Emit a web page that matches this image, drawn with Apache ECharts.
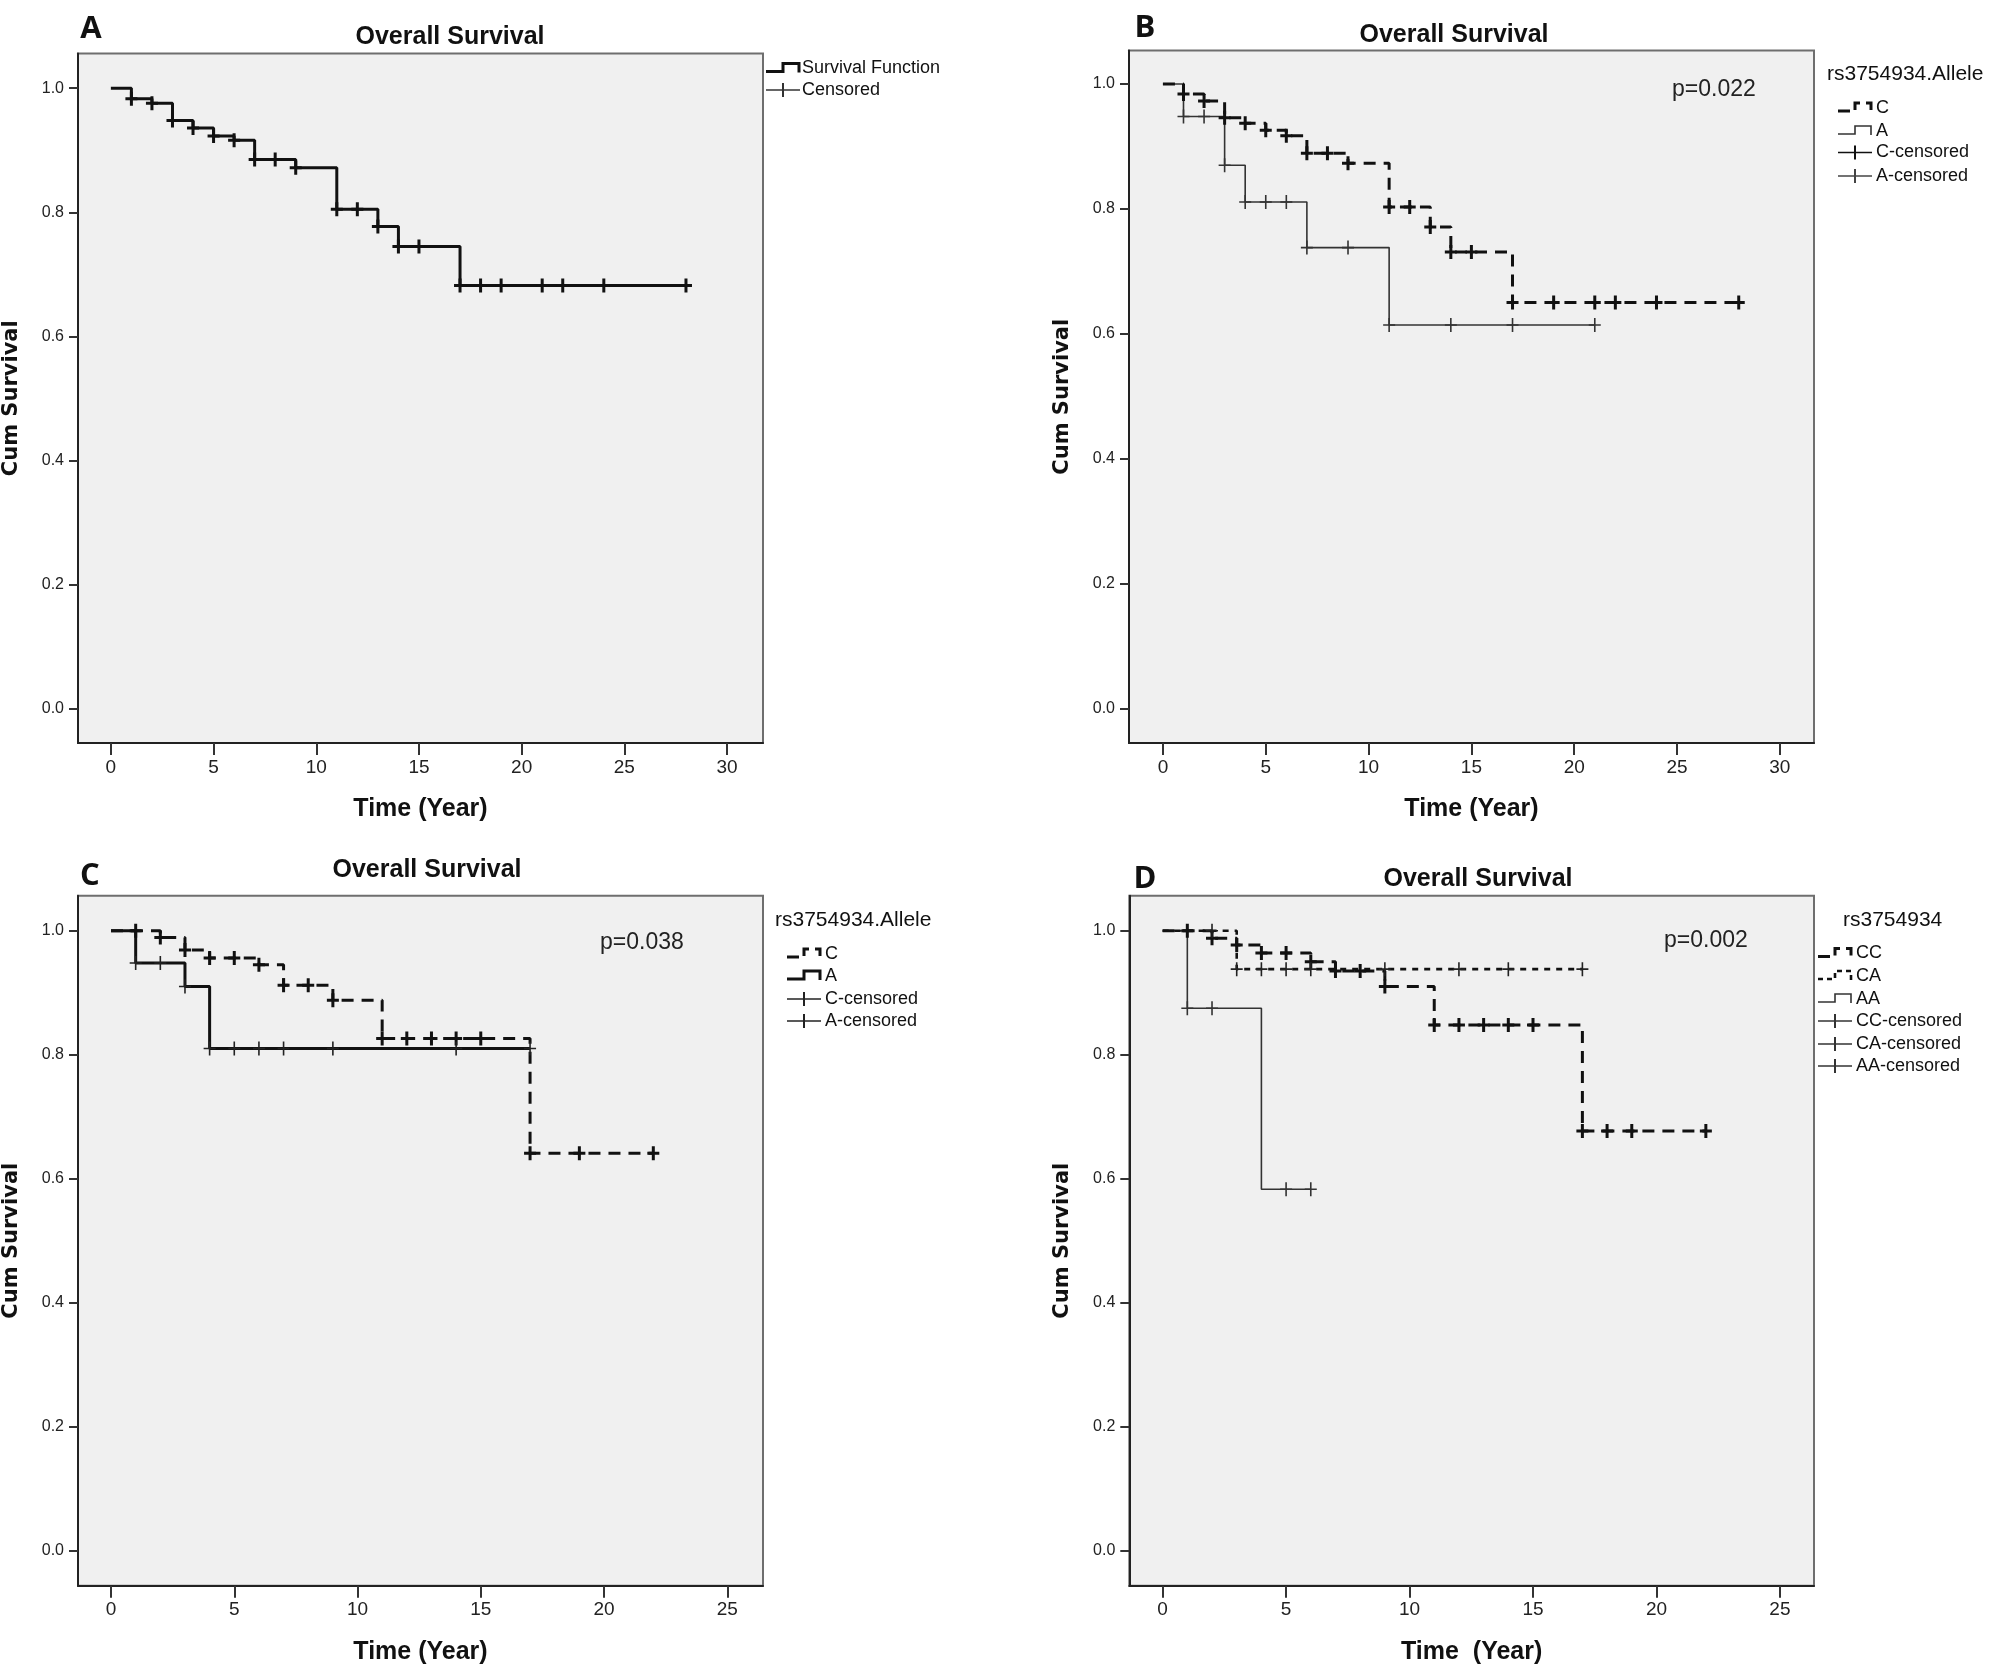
<!DOCTYPE html>
<html><head><meta charset="utf-8">
<script src="https://cdn.jsdelivr.net/npm/echarts@6/dist/echarts.min.js"></script>
<style>html,body{margin:0;padding:0;background:#fff}#c{width:2008px;height:1671px}</style>
</head><body><div id="c"></div>
<script>
// ---------- DATA ----------
// Panel A (all patients)
const aTimes = [0, 1, 2, 3, 4, 5, 6, 7, 9, 11, 13, 14, 17, 28];
const aSurv  = [1.0, 0.983, 0.976, 0.948, 0.936, 0.923, 0.916, 0.885, 0.872, 0.805, 0.777, 0.745, 0.682, 0.682];
const aCens  = [1, 2, 3, 4, 5, 6, 7, 8, 9, 11, 12, 13, 14, 15, 17, 18, 19, 21, 22, 24, 28];

// Panel B (rs3754934.Allele, p=0.022)
const bCTimes = [0, 1, 2, 3, 4, 5, 6, 7, 9, 11, 13, 14, 17, 28];
const bCSurv  = [1.0, 0.984, 0.973, 0.946, 0.937, 0.926, 0.917, 0.889, 0.873, 0.803, 0.771, 0.731, 0.650, 0.650];
const bCCens  = [1, 2, 3, 4, 5, 6, 7, 8, 9, 11, 12, 13, 14, 15, 17, 19, 21, 22, 24, 28];
const bATimes = [0, 1, 3, 4, 7, 11, 21];
const bASurv  = [1.0, 0.948, 0.870, 0.811, 0.738, 0.614, 0.614];
const bACens  = [1, 2, 3, 4, 5, 6, 7, 9, 11, 14, 17, 21];

// Panel C (rs3754934.Allele, p=0.038)
const cCTimes = [0, 2, 3, 4, 6, 7, 9, 11, 17, 22];
const cCSurv  = [1.0, 0.989, 0.969, 0.956, 0.945, 0.912, 0.888, 0.826, 0.641, 0.641];
const cCCens  = [1, 2, 3, 4, 5, 6, 7, 8, 9, 11, 12, 13, 14, 15, 17, 19, 22];
const cATimes = [0, 1, 3, 4, 17];
const cASurv  = [1.0, 0.948, 0.910, 0.810, 0.810];
const cACens  = [1, 2, 3, 4, 5, 6, 7, 9, 14, 17];

// Panel D (rs3754934 genotype, p=0.002)
const dCCTimes = [0, 2, 3, 4, 6, 7, 9, 11, 17, 22];
const dCCSurv  = [1.0, 0.988, 0.977, 0.964, 0.950, 0.935, 0.910, 0.848, 0.677, 0.677];
const dCCCens  = [1, 2, 3, 4, 5, 6, 7, 8, 9, 11, 12, 13, 14, 15, 17, 18, 19, 22];
const dCATimes = [0, 3, 17];
const dCASurv  = [1.0, 0.938, 0.938];
const dCACens  = [2, 3, 4, 5, 6, 9, 12, 14, 17];
const dAATimes = [0, 1, 4, 6];
const dAASurv  = [1.0, 0.875, 0.583, 0.583];
const dAACens  = [1, 2, 5, 6];

// Tick labels
const xTicks30 = [0, 5, 10, 15, 20, 25, 30];
const xTicks25 = [0, 5, 10, 15, 20, 25];
const yTicks   = [0.0, 0.2, 0.4, 0.6, 0.8, 1.0];

// Text
const panelTitle = 'Overall Survival';
const yName = 'Cum Survival';
const pValues = ['p=0.022', 'p=0.038', 'p=0.002'];

// ---------- BUILD ----------
const CROSS_THICK = 'path://M45,0H75V55H120V85H75V140H45V85H0V55H45Z';
const CROSS_THIN  = 'path://M52,0H68V62H120V78H68V140H52V78H0V62H52Z';

function survAt(times, surv, t) {
  let v = surv[0];
  for (let i = 0; i < times.length; i++) if (times[i] <= t) v = surv[i];
  return v;
}
function stepSeries(times, surv, gi, ls) {
  return { type: 'line', xAxisIndex: gi, yAxisIndex: gi, step: 'end', symbol: 'none', showSymbol: false,
    data: times.map((t, i) => [t, surv[i]]), lineStyle: ls, silent: true, z: 2 };
}
function censSeries(times, surv, cens, gi, sym, color) {
  return { type: 'scatter', xAxisIndex: gi, yAxisIndex: gi, symbol: sym, symbolSize: [12, 14],
    data: cens.map(t => [t, survAt(times, surv, t)]), itemStyle: { color: color, opacity: 1 }, silent: true, z: 3 };
}

const THICK = { color: '#111', width: 3 };
const DASH = { color: '#111', width: 3, type: [12, 8] };
const DOT = { color: '#111', width: 2.6, type: [6, 6] };
const THIN = { color: '#333', width: 1.6 };

const series = [
  stepSeries(aTimes, aSurv, 0, THICK),
  censSeries(aTimes, aSurv, aCens, 0, CROSS_THICK, '#111'),

  stepSeries(bATimes, bASurv, 1, THIN),
  stepSeries(bCTimes, bCSurv, 1, DASH),
  censSeries(bCTimes, bCSurv, bCCens, 1, CROSS_THICK, '#111'),
  censSeries(bATimes, bASurv, bACens, 1, CROSS_THIN, '#333'),

  stepSeries(cATimes, cASurv, 2, THICK),
  stepSeries(cCTimes, cCSurv, 2, DASH),
  censSeries(cCTimes, cCSurv, cCCens, 2, CROSS_THICK, '#111'),
  censSeries(cATimes, cASurv, cACens, 2, CROSS_THIN, '#222'),

  stepSeries(dAATimes, dAASurv, 3, THIN),
  stepSeries(dCATimes, dCASurv, 3, DOT),
  stepSeries(dCCTimes, dCCSurv, 3, DASH),
  censSeries(dCCTimes, dCCSurv, dCCCens, 3, CROSS_THICK, '#111'),
  censSeries(dCATimes, dCASurv, dCACens, 3, CROSS_THIN, '#222'),
  censSeries(dAATimes, dAASurv, dAACens, 3, CROSS_THIN, '#333')
];

const grids = [
  { left: 77, top: 53.5, width: 686, height: 689.5 },
  { left: 1129, top: 50.5, width: 685, height: 692.5 },
  { left: 77, top: 895.7, width: 686, height: 690 },
  { left: 1129.3, top: 895.7, width: 684.7, height: 690 }
].map(g => Object.assign(g, { show: true, backgroundColor: '#f0f0f0', borderColor: '#6e6e6e', borderWidth: 2, containLabel: false }));

const xRanges = [[-1.6, 31.75], [-1.65, 31.66], [-1.34, 26.45], [-1.35, 26.38]];
const yRanges = [[-0.0553, 1.056], [-0.0556, 1.0537], [-0.0565, 1.0565], [-0.0565, 1.0565]];
const xNames = ['Time (Year)', 'Time (Year)', 'Time (Year)', 'Time  (Year)'];
const xTickSets = [xTicks30, xTicks30, xTicks25, xTicks25];

const xAxes = [0, 1, 2, 3].map(i => ({
  type: 'value', gridIndex: i, min: xRanges[i][0], max: xRanges[i][1],
  axisLine: { show: true, onZero: false, lineStyle: { color: '#222', width: 2 } },
  axisTick: { show: true, length: 12, customValues: xTickSets[i], lineStyle: { color: '#333', width: 2 } },
  axisLabel: { customValues: xTickSets[i], margin: 15, fontSize: 19, color: '#222',
    fontFamily: "'Liberation Sans Narrow', 'Liberation Sans', Arial, sans-serif" },
  splitLine: { show: false },
  name: xNames[i], nameLocation: 'middle', nameGap: 54,
  nameTextStyle: { fontSize: 25, fontWeight: 'bold', color: '#111', fontFamily: "'Liberation Sans', Arial, sans-serif" }
}));
const yAxes = [0, 1, 2, 3].map(i => ({
  type: 'value', gridIndex: i, min: yRanges[i][0], max: yRanges[i][1],
  axisLine: { show: true, onZero: false, lineStyle: { color: '#222', width: 2 } },
  axisTick: { show: true, length: 9, customValues: yTicks, lineStyle: { color: '#333', width: 2 } },
  axisLabel: { customValues: yTicks, margin: 14, fontSize: 16, color: '#222',
    fontFamily: "'Liberation Sans', Arial, sans-serif", formatter: v => v.toFixed(1) },
  splitLine: { show: false },
  name: yName, nameLocation: 'middle', nameGap: 56,
  nameTextStyle: { fontSize: 21, fontWeight: 'bold', color: '#111', fontFamily: "'DejaVu Sans', sans-serif" }
}));

// ---------- ANNOTATIONS / LEGENDS ----------
const G = [];
function txt(x, y, text, size, opts) {
  G.push({ type: 'text', x: x, y: y, silent: true, z: 10,
    style: Object.assign({ text: text, fontSize: size, fontFamily: "'Liberation Sans', Arial, sans-serif",
      fill: '#111', align: 'left', verticalAlign: 'middle' }, opts || {}) });
}
function poly(points, lw, dash, color) {
  G.push({ type: 'polyline', silent: true, z: 10, shape: { points: points },
    style: { stroke: color || '#111', lineWidth: lw, fill: null, lineDash: dash || null } });
}
function stepIcon(x, y, lw, dash, color) {
  poly([[x, y + 3], [x + 17, y + 3], [x + 17, y - 5], [x + 33, y - 5], [x + 33, y + 4]], lw, dash, color);
}
function censIcon(x, y, color) {
  poly([[x, y], [x + 34, y]], 1.5, null, color || '#333');
  poly([[x + 17, y - 7], [x + 17, y + 7]], 2, null, color || '#333');
}

// panel letters
const letterFont = { fontFamily: "'Open Sans', Lato, sans-serif", fontWeight: 'bold', align: 'center' };
txt(91, 29, 'A', 31, letterFont);
txt(1145, 28, 'B', 31, letterFont);
txt(90, 876, 'C', 31, letterFont);
txt(1145, 879, 'D', 31, letterFont);

// titles
const titleFont = { fontWeight: 'bold', align: 'center' };
txt(450, 37, panelTitle, 25, titleFont);
txt(1454, 35, panelTitle, 25, titleFont);
txt(427, 870, panelTitle, 25, titleFont);
txt(1478, 879, panelTitle, 25, titleFont);

// p-values
txt(1672, 90, pValues[0], 23, { fill: '#222' });
txt(600, 943, pValues[1], 23, { fill: '#222' });
txt(1664, 941, pValues[2], 23, { fill: '#222' });

// Legend A
stepIcon(766, 68.5, 3, null, '#111'); txt(802, 68.5, 'Survival Function', 18);
censIcon(766, 90); txt(802, 90, 'Censored', 18);

// Legend B
txt(1827, 74.5, 'rs3754934.Allele', 21);
stepIcon(1838, 108, 3, [12, 6], '#111'); txt(1876, 108, 'C', 18);
stepIcon(1838, 131, 1.6, null, '#333'); txt(1876, 131, 'A', 18);
censIcon(1838, 152.5, '#111'); txt(1876, 152.5, 'C-censored', 18);
censIcon(1838, 176, '#444'); txt(1876, 176, 'A-censored', 18);

// Legend C
txt(775, 920.5, 'rs3754934.Allele', 21);
stepIcon(787, 954, 3, [12, 6], '#111'); txt(825, 954, 'C', 18);
stepIcon(787, 976, 3, null, '#111'); txt(825, 976, 'A', 18);
censIcon(787, 999, '#222'); txt(825, 999, 'C-censored', 18);
censIcon(787, 1021, '#222'); txt(825, 1021, 'A-censored', 18);

// Legend D
txt(1843, 920, 'rs3754934', 21);
stepIcon(1818, 953.5, 3, [12, 6], '#111'); txt(1856, 953.5, 'CC', 18);
stepIcon(1818, 976, 2.6, [5, 4], '#111'); txt(1856, 976, 'CA', 18);
stepIcon(1818, 999, 1.6, null, '#333'); txt(1856, 999, 'AA', 18);
censIcon(1818, 1021); txt(1856, 1021, 'CC-censored', 18);
censIcon(1818, 1044); txt(1856, 1044, 'CA-censored', 18);
censIcon(1818, 1066); txt(1856, 1066, 'AA-censored', 18);

const chart = echarts.init(document.getElementById('c'), null, { renderer: 'canvas' });
chart.setOption({
  animation: false,
  backgroundColor: '#ffffff',
  grid: grids,
  xAxis: xAxes,
  yAxis: yAxes,
  series: series,
  graphic: G
});
</script>
</body></html>
